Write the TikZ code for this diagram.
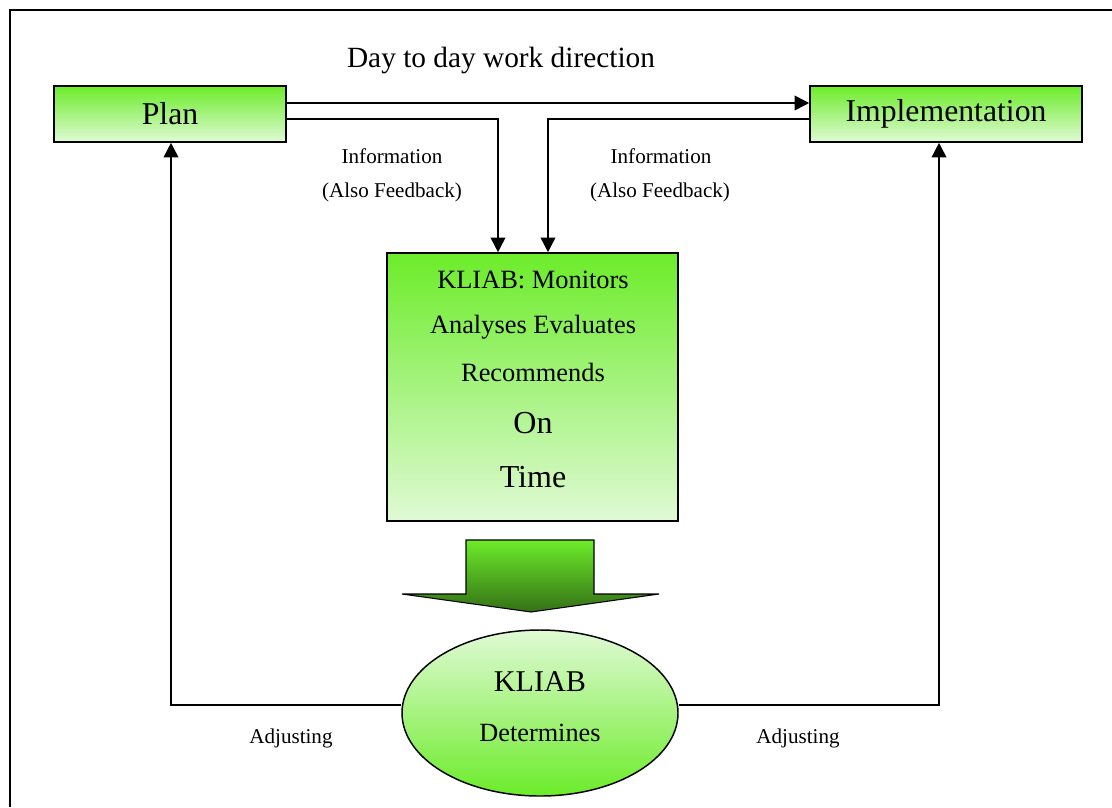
\documentclass[tikz,border=0pt]{standalone}
\usepackage{fontspec}
\setmainfont{Liberation Serif}
\usetikzlibrary{shapes.geometric,arrows.meta,calc}
\definecolor{brightgreen}{RGB}{108,236,42}
\definecolor{palegreen}{RGB}{224,250,213}
\definecolor{darkgreen}{RGB}{52,112,22}
\tikzset{
  gbox/.style={draw=black, line width=1.2pt, rectangle, top color=brightgreen, bottom color=palegreen, inner sep=0pt},
  gell/.style={draw=black, line width=1.1pt, ellipse, top color=palegreen, bottom color=brightgreen, inner sep=0pt},
  conn/.style={line width=1.3pt},
  arr/.style={conn, -{Triangle[length=11pt,width=11pt]}},
  lbl/.style={inner sep=0pt, font=\fontsize{15.8}{18}\selectfont},
  boxtxt/.style={inner sep=0pt, font=\fontsize{19.8}{23}\selectfont},
  bigtxt/.style={inner sep=0pt, font=\fontsize{24}{28}\selectfont}
}
\begin{document}
\begin{tikzpicture}[x=0.75pt,y=-0.75pt]
\useasboundingbox (0,0) rectangle (1112,807);
\fill[white] (0,0) rectangle (1112,807);
% frame
\draw[line width=1.3pt] (1112,10) -- (10,10) -- (10,807);

% nodes
\node[gbox, minimum width=174pt, minimum height=42pt] (plan) at (170,114) {\fontsize{23.8}{28}\selectfont Plan};
\node[gbox, minimum width=204pt, minimum height=42pt] (impl) at (946,114) {\fontsize{23.8}{28}\selectfont Implementation};
\node[gbox, minimum width=218.25pt, minimum height=201pt] (kbox) at (532.5,387) {};
\node[gell, minimum width=207pt, minimum height=124.5pt] (ell) at (540,713) {};

% center box text
\node[boxtxt] (t1) at (533,280) {KLIAB: Monitors};
\node[boxtxt] (t2) at (533,327) {Analyses Evaluates};
\node[boxtxt] (t3) at (533,372) {Recommends};
\node[bigtxt] (t4) at (533,423) {On};
\node[bigtxt] (t5) at (533,477) {Time};

% ellipse text
\node[inner sep=0pt, font=\fontsize{22.6}{26}\selectfont] (e1) at (540,682) {KLIAB};
\node[inner sep=0pt, font=\fontsize{19.7}{23}\selectfont] (e2) at (540,733) {Determines};

% labels
\node[inner sep=0pt, font=\fontsize{22}{26}\selectfont] (dir) at (501,60) {Day to day work direction};
\node[lbl] (infoL) at (392,156) {Information};
\node[lbl] (fbL) at (392,192) {(Also Feedback)};
\node[lbl] (infoR) at (661,156) {Information};
\node[lbl] (fbR) at (660,192) {(Also Feedback)};
\node[lbl] (adjL) at (291,738) {Adjusting};
\node[lbl] (adjR) at (798,738) {Adjusting};

% connectors
\draw[arr] ($(plan.east)+(0,-11)$) -- ($(impl.west)+(0,-11)$);
\draw[arr] ($(plan.east)+(0,5)$) -| ($(kbox.north)+(-34.5,0)$);
\draw[arr] ($(impl.west)+(0,5)$) -| ($(kbox.north)+(15.5,0)$);
\draw[arr] ($(ell.west)+(0,-8)$) -| ($(plan.south)+(1,0)$);
\draw[arr] ($(ell.east)+(0,-8)$) -| ($(impl.south)+(-7,0)$);

% block arrow
\draw[line width=0.8pt, top color=brightgreen, bottom color=darkgreen]
  (466,540) -- (594,540) -- (594,594) -- (659,594) -- (531,612) -- (402,594) -- (466,594) -- cycle;
\end{tikzpicture}
\end{document}
